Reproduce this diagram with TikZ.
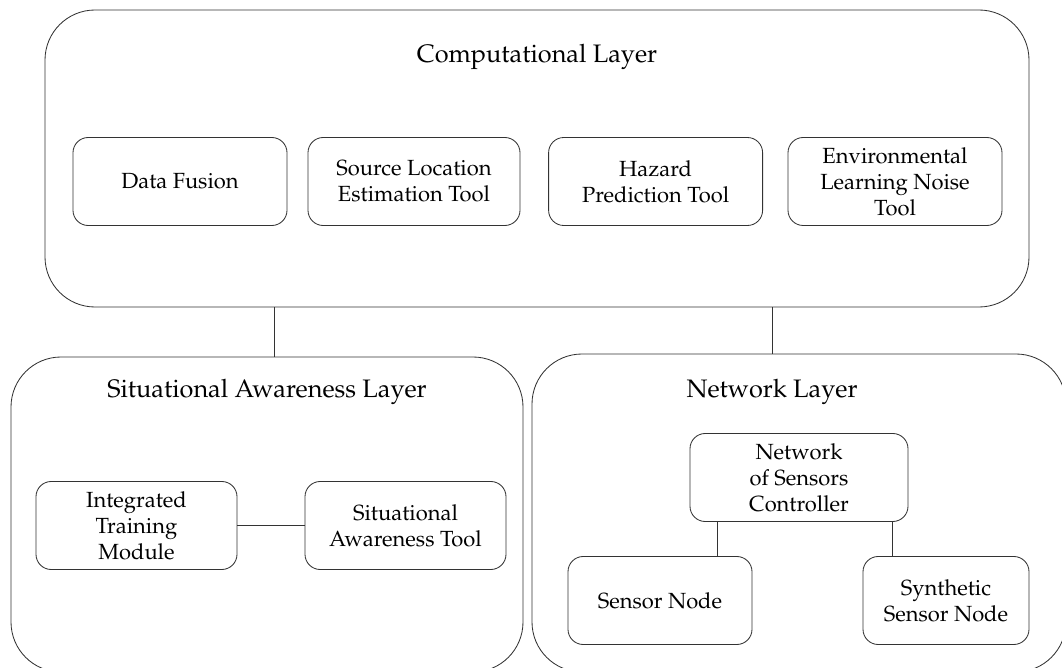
\documentclass[tikz,border=0pt]{standalone}
\usepackage[T1]{fontenc}
\usepackage{mathpazo}
\usepackage{tikz}
\usetikzlibrary{positioning}

\begin{document}
\begin{tikzpicture}[line width=0.6pt,
        layer/.style={draw=black!80,rounded corners=1.25cm},
        tool/.style={draw=black!80,rounded corners=0.38cm,minimum height=2.2cm,align=center,
          font=\fontsize{15.6}{18.5}\selectfont},
        title/.style={font=\fontsize{18}{22}\selectfont}]
      \useasboundingbox (0,0) rectangle (26.55,16.675);
      % layers
      \node[layer,minimum width=24.6cm,minimum height=7.425cm] (comp) at (13.425,12.7125) {};
      \node[layer,minimum width=12.8cm,minimum height=7.875cm] (sal) at (6.675,3.8125) {};
      \node[layer,minimum width=13.35cm,minimum height=7.95cm] (netl) at (19.975,3.85) {};
      \node[title] (comptitle) at (13.425,15.25) {Computational Layer};
      \node[title] (saltitle) at (6.675,6.875) {Situational Awareness Layer};
      \node[title] (netltitle) at (19.3,6.875) {Network Layer};
      % computational tools
      \node[tool,minimum width=5.35cm] (fusion) at (4.5,12.1375) {Data Fusion};
      \node[tool,minimum width=5.3cm] (source) at (10.35,12.1375) {Source Location\\Estimation Tool};
      \node[tool,minimum width=5.35cm] (hazard) at (16.39,12.1375) {Hazard\\Prediction Tool};
      \node[tool,minimum width=5.35cm] (noise) at (22.375,12.1375) {Environmental\\Learning Noise\\Tool};
      % situational awareness
      \node[tool,minimum width=5.025cm] (itm) at (3.4125,3.5375) {Integrated\\Training\\Module};
      \node[tool,minimum width=5.025cm] (sat) at (10.1375,3.5375) {Situational\\Awareness Tool};
      % network
      \node[tool,minimum width=5.45cm] (ctrl) at (19.975,4.7375) {Network\\of Sensors\\Controller};
      \node[tool,minimum width=4.6cm] (sensor) at (16.5,1.6625) {Sensor Node};
      \node[tool,minimum width=4.15cm] (synth) at (23.65,1.6625) {Synthetic\\Sensor Node};
      % connectors
      \draw[draw=black!80] ([xshift=0.175cm]sal.north) -- ([xshift=0.175cm]sal.north |- comp.south);
      \draw[draw=black!80] ([xshift=-0.675cm]netl.north) -- ([xshift=-0.675cm]netl.north |- comp.south);
      \draw[draw=black!80] (itm) -- (sat);
      \draw[draw=black!80] ([xshift=-2.05cm]ctrl.south) -- ([xshift=-2.05cm]ctrl.south |- sensor.north);
      \draw[draw=black!80] ([xshift=2.325cm]ctrl.south) -- ([xshift=2.325cm]ctrl.south |- synth.north);
    \end{tikzpicture}
\end{document}
